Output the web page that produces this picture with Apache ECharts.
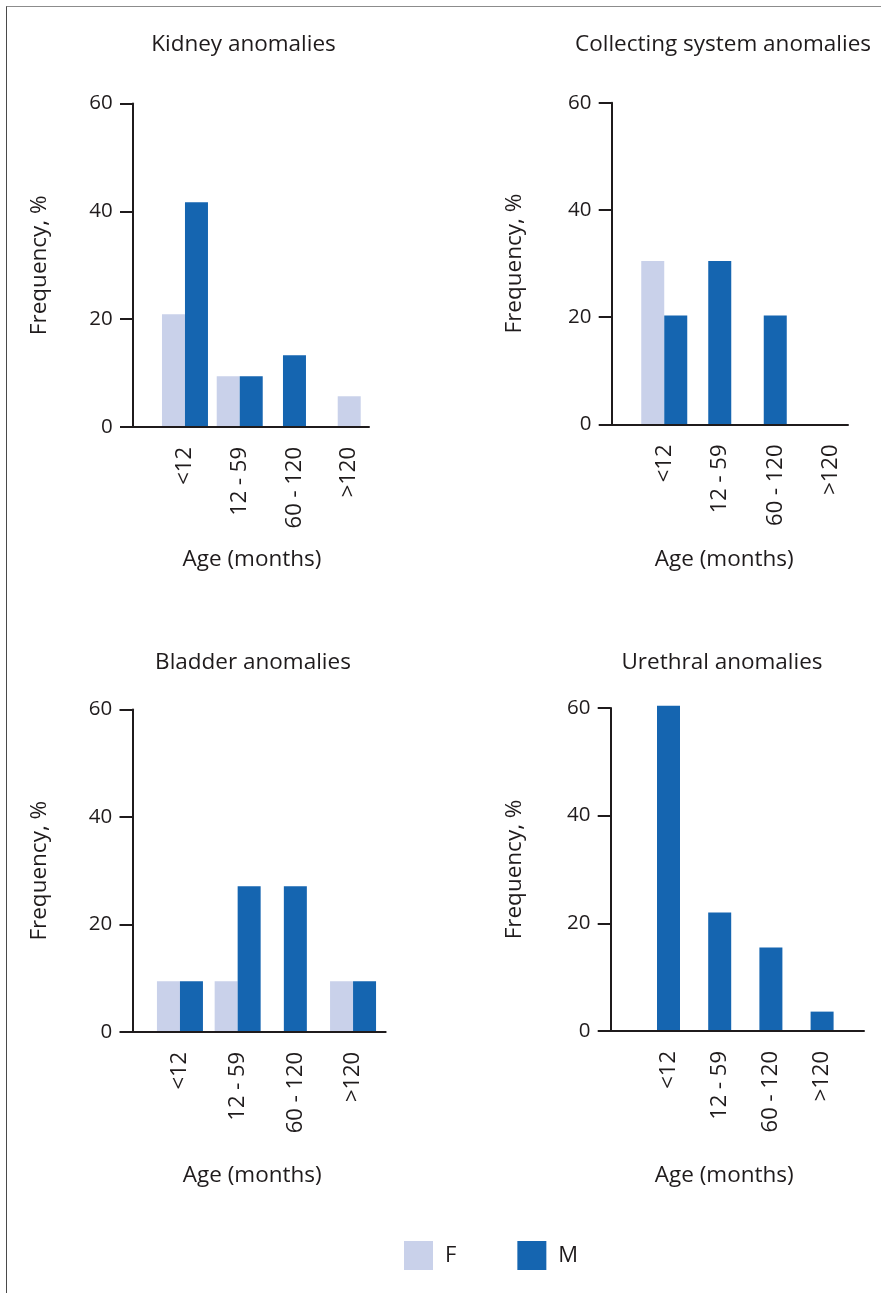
<!DOCTYPE html>
<html><head><meta charset="utf-8">
<script src="https://cdn.jsdelivr.net/npm/echarts@6/dist/echarts.min.js"></script>
<style>
html,body{margin:0;padding:0;background:#fff;overflow:hidden;}
#frame{position:absolute;left:6px;top:6px;width:900px;height:1300px;border-left:1.5px solid #4a4a4a;border-top:1.5px solid #8c8c8c;}
#chart{position:absolute;left:0;top:0;width:881px;height:1293px;}
</style></head>
<body><div id="frame"></div><div id="chart"></div>
<script>
// ---- data ----
const categories = ['<12', '12 - 59', '60 - 120', '>120'];
const yTickMax = 60;
const yTickStep = 20;
const panelTitles = ['Kidney anomalies', 'Collecting system anomalies', 'Bladder anomalies', 'Urethral anomalies'];
const xAxisTitle = 'Age (months)';
const yAxisTitle = 'Frequency, %';
const seriesNames = ['F', 'M'];
const kidneyF = [20.9, 9.4, 0, 5.7];
const kidneyM = [41.7, 9.4, 13.3, 0];
const collectingF = [30.5, 0, 0, 0];
const collectingM = [20.3, 30.5, 20.3, 0];
const bladderF = [9.4, 9.4, 0, 9.4];
const bladderM = [9.4, 27.1, 27.1, 9.4];
const urethralF = [0, 0, 0, 0];
const urethralM = [60.4, 22.0, 15.5, 3.6];

// ---- styling / layout ----
const FONT = 'Open Sans';
const TXT = '#1f1b1c';
const COLORS = {F: '#c9d1ea', M: '#1565b0'};
const layout = [
  {axisX:133,   top:103.5, base:427,    xEnd:369,   bandL:157.6, bandW:219,   nameGap:82,   tx:243.5, ty:44.6,  ax:252,   ay:559.8},
  {axisX:611.7, top:102.7, base:424.5,  xEnd:848,   bandL:636.5, bandW:222,   nameGap:86,   tx:723,   ty:44.6,  ax:724.2, ay:559.8},
  {axisX:132.5, top:709.6, base:1031.8, xEnd:385.7, bandL:151.1, bandW:230.8, nameGap:81.5, tx:253,   ty:662.4, ax:252.2, ay:1176},
  {axisX:610.7, top:707.9, base:1031,   xEnd:864,   bandL:642.9, bandW:204.8, nameGap:85,   tx:722,   ty:662.6, ax:724.2, ay:1176}
];
const panelData = [[kidneyF, kidneyM], [collectingF, collectingM], [bladderF, bladderM], [urethralF, urethralM]];

const grids = [], xAxes = [], yAxes = [], series = [], titles = [];
const axisLineStyle = {color: TXT, width: 2};

panelData.forEach(function (pd, p) {
  const L = layout[p];
  const F = pd[0], M = pd[1];
  // grid A: axes frame
  grids.push({left: L.axisX, top: L.top, width: L.xEnd - L.axisX, height: L.base - L.top, outerBoundsMode: 'none', containLabel: false});
  // grid B: bars
  grids.push({left: L.bandL, top: L.top, width: L.bandW, height: L.base - L.top, outerBoundsMode: 'none', containLabel: false});
  const gA = 2 * p, gB = 2 * p + 1;
  xAxes.push({gridIndex: gA, type: 'value', min: 0, max: 1, z: 5,
    axisLine: {show: true, onZero: true, lineStyle: axisLineStyle},
    axisTick: {show: false}, axisLabel: {show: false}, splitLine: {show: false}});
  xAxes.push({gridIndex: gB, type: 'category', data: categories,
    axisLine: {show: false}, axisTick: {show: false}, splitLine: {show: false},
    axisLabel: {show: true, rotate: 90, margin: 20, fontSize: 22, fontFamily: FONT, color: TXT, interval: 0}});
  xAxes.push({gridIndex: gB, type: 'category', data: categories, show: false});
  yAxes.push({gridIndex: gA, type: 'value', min: 0, max: yTickMax, interval: yTickStep, z: 5,
    axisLine: {show: true, onZero: false, lineStyle: axisLineStyle},
    axisTick: {show: true, length: 13, lineStyle: axisLineStyle},
    axisLabel: {show: true, margin: 20.3, fontSize: 20.5, fontFamily: FONT, color: TXT},
    splitLine: {show: false},
    name: yAxisTitle, nameLocation: 'middle', nameGap: L.nameGap,
    nameTextStyle: {fontSize: 22.5, fontFamily: FONT, color: TXT}});
  yAxes.push({gridIndex: gB, type: 'value', min: 0, max: yTickMax, show: false});
  const xPair = 3 * p + 1, xSingle = 3 * p + 2, yB = 2 * p + 1;
  const pairF = F.map(function (v, i) { return (v > 0 && M[i] > 0) ? v : '-'; });
  const pairM = M.map(function (v, i) { return (v > 0 && F[i] > 0) ? v : '-'; });
  const singleF = F.map(function (v, i) { return (v > 0 && !(M[i] > 0)) ? v : '-'; });
  const singleM = M.map(function (v, i) { return (v > 0 && !(F[i] > 0)) ? v : '-'; });
  const common = {type: 'bar', barWidth: 23, yAxisIndex: yB, silent: true, animation: false, clip: false};
  series.push(Object.assign({}, common, {name: 'F', xAxisIndex: xPair, data: pairF, barGap: '0%', itemStyle: {color: COLORS.F}}));
  series.push(Object.assign({}, common, {name: 'M', xAxisIndex: xPair, data: pairM, barGap: '0%', itemStyle: {color: COLORS.M}}));
  series.push(Object.assign({}, common, {name: 'F', xAxisIndex: xSingle, data: singleF, barGap: '-100%', itemStyle: {color: COLORS.F}}));
  series.push(Object.assign({}, common, {name: 'M', xAxisIndex: xSingle, data: singleM, barGap: '-100%', itemStyle: {color: COLORS.M}}));
  titles.push({text: panelTitles[p], left: L.tx, top: L.ty - 12, textAlign: 'center', padding: 0,
    textStyle: {fontSize: 22.5, fontWeight: 'normal', fontFamily: FONT, color: TXT, lineHeight: 24}});
  titles.push({text: xAxisTitle, left: L.ax, top: L.ay - 12, textAlign: 'center', padding: 0,
    textStyle: {fontSize: 22.5, fontWeight: 'normal', fontFamily: FONT, color: TXT, lineHeight: 24}});
});

const chart = echarts.init(document.getElementById('chart'), null, {renderer: 'canvas'});
chart.setOption({
  backgroundColor: 'transparent',
  animation: false,
  title: titles,
  grid: grids,
  xAxis: xAxes,
  yAxis: yAxes,
  legend: {
    data: seriesNames, left: 404, top: 1241, orient: 'horizontal', padding: 0,
    itemWidth: 29, itemHeight: 29, itemGap: 61, icon: 'rect', selectedMode: false,
    textStyle: {fontSize: 22, fontFamily: FONT, color: TXT, padding: [0, 0, 0, 7]}
  },
  tooltip: {show: false},
  series: series
});
</script>
</body></html>
